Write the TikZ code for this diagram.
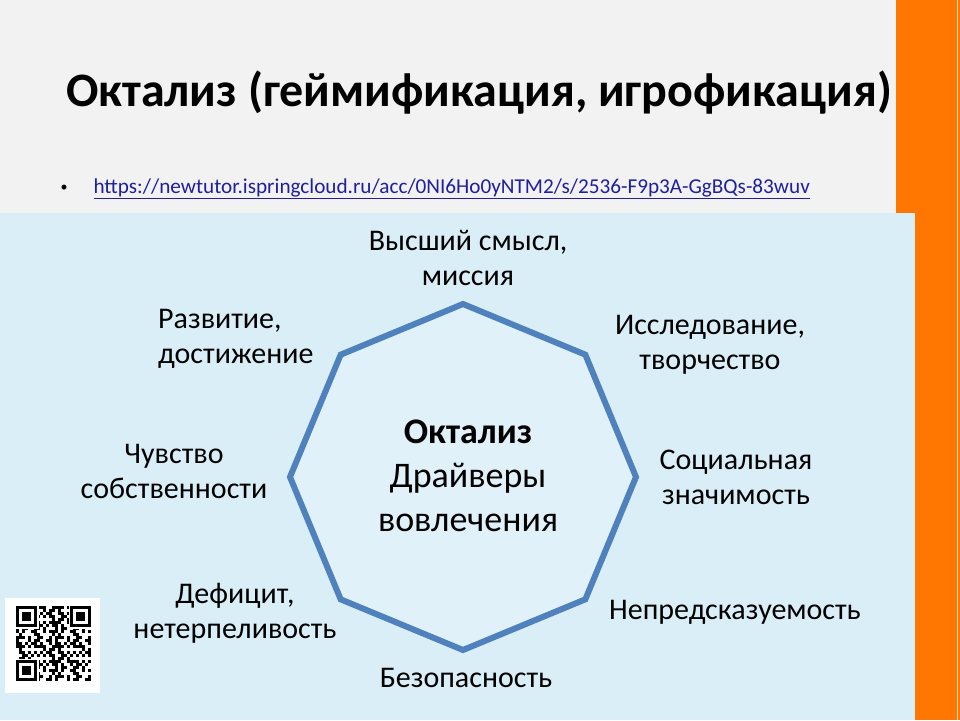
\documentclass[tikz,border=0pt]{standalone}
\usepackage{fontspec}
\setmainfont{Carlito}
\usepackage{xcolor}
\usetikzlibrary{shapes.geometric,positioning}

\definecolor{slidegray}{HTML}{F2F2F2}
\definecolor{slideorange}{HTML}{FF7700}
\definecolor{panelblue}{HTML}{DAEEF8}
\definecolor{octfill}{HTML}{E0F1FA}
\definecolor{octline}{HTML}{4F81BD}
\definecolor{linkblue}{HTML}{1F1FA0}

\tikzset{
    driver/.style={font=\fontsize{30}{35}\selectfont, align=center, inner sep=0pt},
    octagon/.style={regular polygon, regular polygon sides=8, shape border rotate=22.5,
        draw=octline, line width=6pt, fill=octfill, minimum size=346pt, inner sep=0pt}
}

\begin{document}
\begin{tikzpicture}[x=1pt, y=-1pt]

    % Background
    \useasboundingbox (0,0) rectangle (960,720);
    \fill[slidegray] (0,0) rectangle (960,720);
    \fill[slideorange] (896,0) rectangle (960,720);
    \draw[white!70!slideorange, line width=1pt] (957,0) -- (957,720);
    \fill[panelblue] (0,213) rectangle (915,720);

    % Title and link
    \node[font=\bfseries\fontsize{48}{52}\selectfont, anchor=base] (title) at (479,106)
        {Октализ (геймификация, игрофикация)};
    \node[font=\fontsize{14}{16}\selectfont, anchor=base west] (bullet) at (57,191) {•};
    \node[font=\fontsize{21.2}{24}\selectfont, text=linkblue, anchor=base west] (link) at (90,193)
        {\underline{https://newtutor.ispringcloud.ru/acc/0NI6Ho0yNTM2/s/2536-F9p3A-GgBQs-83wuv}};

    % Octagon
    \node[octagon] (oct) at (463,477) {};
    \node[font=\fontsize{36}{44}\selectfont, align=center] (core) at (468,476)
        {\textbf{Октализ}\\Драйверы\\вовлечения};

    % Drivers
    \node[driver] (meaning) at (468,258) {Высший смысл,\\миссия};
    \node[driver, align=left, anchor=west] (growth) at (158,339) {Развитие,\\достижение};
    \node[driver] (creativity) at (710,345) {Исследование,\\творчество};
    \node[driver] (ownership) at (174,471) {Чувство\\собственности};
    \node[driver] (social) at (736,477) {Социальная\\значимость};
    \node[driver] (scarcity) at (235,613) {Дефицит,\\нетерпеливость};
    \node[driver] (unpredict) at (735,612) {Непредсказуемость};
    \node[driver] (avoidance) at (466,678) {Безопасность};

    % QR code
    \fill[white] (5,598) rectangle (100,693);
    \foreach \i in {0,...,24} {
        \foreach \j in {0,...,24} {
            \pgfmathtruncatemacro{\q}{mod(3*\i*\i+5*\j*\j+7*\i*\j+2*\i+\j,13)}
            \ifnum\q<6 \fill (16+3*\i,606+3*\j) rectangle ++(3,3); \fi
        }
    }
    \foreach \fx/\fy in {16/606, 70/606, 16/660} {
        \fill[white] (\fx-1,\fy-1) rectangle ++(24,24);
        \fill (\fx,\fy) rectangle ++(21,21);
        \fill[white] (\fx+3,\fy+3) rectangle ++(15,15);
        \fill (\fx+6,\fy+6) rectangle ++(9,9);
    }
\end{tikzpicture}
\end{document}
